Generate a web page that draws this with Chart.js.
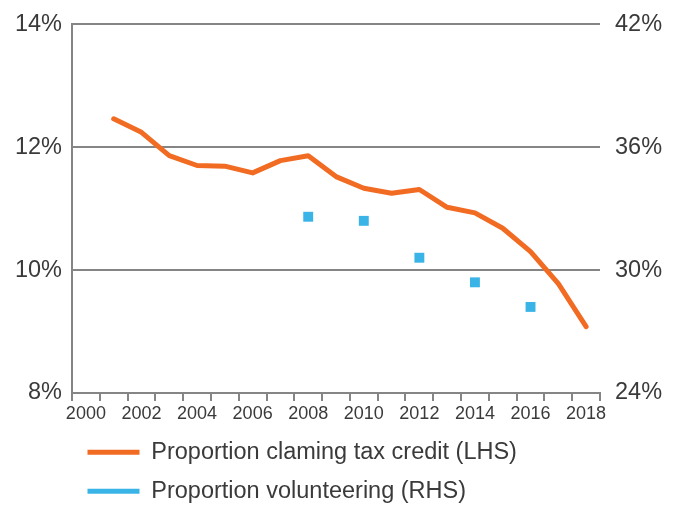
<!DOCTYPE html>
<html>
<head>
<meta charset="utf-8">
<script src="https://cdn.jsdelivr.net/npm/chart.js@4"></script>
<style>
  html, body { margin: 0; padding: 0; background: #fff; overflow: hidden; }
  #wrap { width: 674px; height: 507px; overflow: hidden; }
</style>
</head>
<body>
<div id="wrap"><canvas id="chart" width="674" height="513"></canvas></div>
<script>
const years = ['2000', '2001', '2002', '2003', '2004', '2005', '2006', '2007', '2008', '2009',
               '2010', '2011', '2012', '2013', '2014', '2015', '2016', '2017', '2018'];

// proportion claiming tax credit, % (left axis)
const creditYears = ['2001', '2002', '2003', '2004', '2005', '2006', '2007', '2008', '2009',
                     '2010', '2011', '2012', '2013', '2014', '2015', '2016', '2017', '2018'];
const creditValues = [12.46, 12.24, 11.86, 11.70, 11.69, 11.58, 11.78, 11.86, 11.52,
                      11.33, 11.25, 11.31, 11.02, 10.93, 10.68, 10.30, 9.78, 9.08];

// proportion volunteering, % (right axis)
const volunteerYears = ['2008', '2010', '2012', '2014', '2016'];
const volunteerValues = [32.6, 32.4, 30.6, 29.4, 28.2];

const leftTicks = [8, 10, 12, 14];
const rightTicks = [24, 30, 36, 42];

const axisGrey = '#858585';
const textColor = '#3a3a3a';
const fontFamily = '"Liberation Sans", Arial, sans-serif';

new Chart(document.getElementById('chart'), {
    data: {
        labels: years,
        datasets: [{
            type: 'line',
            label: 'Proportion claming tax credit (LHS)',
            data: creditYears.map((y, i) => ({ x: y, y: creditValues[i] })),
            borderColor: '#F26B23',
            backgroundColor: '#F26B23',
            borderWidth: 5,
            borderCapStyle: 'round',
            borderJoinStyle: 'round',
            pointRadius: 0,
            tension: 0,
            yAxisID: 'y'
        }, {
            type: 'line',
            label: 'Proportion volunteering (RHS)',
            data: volunteerYears.map((y, i) => ({ x: y, y: volunteerValues[i] })),
            showLine: false,
            pointStyle: 'rect',
            pointRadius: 7,
            pointBorderWidth: 0,
            backgroundColor: '#3AB4E6',
            borderColor: '#3AB4E6',
            yAxisID: 'y1'
        }]
    },
    options: {
        responsive: false,
        animation: false,
        layout: { padding: { top: 20, bottom: 0 } },
        plugins: {
            tooltip: { enabled: false },
            legend: {
                position: 'bottom',
                align: 'start',
                fullSize: false,
                labels: {
                    color: textColor,
                    font: { family: fontFamily, size: 23.5 },
                    boxWidth: 52,
                    boxHeight: 5,
                    padding: 15.5,
                    useBorderRadius: true,
                    borderRadius: 2.5,
                    generateLabels: chart => chart.data.datasets.map((ds, i) => ({
                        text: ds.label,
                        fillStyle: ds.backgroundColor,
                        strokeStyle: ds.backgroundColor,
                        lineWidth: 0,
                        hidden: false,
                        datasetIndex: i,
                        fontColor: textColor
                    }))
                }
            }
        },
        scales: {
            x: {
                type: 'category',
                offset: true,
                grid: {
                    offset: true,
                    drawOnChartArea: false,
                    drawTicks: true,
                    tickLength: 8,
                    color: axisGrey,
                    lineWidth: 2
                },
                border: { display: true, color: axisGrey, width: 2 },
                ticks: {
                    autoSkip: false,
                    maxRotation: 0,
                    padding: 2,
                    color: textColor,
                    font: { family: fontFamily, size: 18 },
                    callback: function (val, idx) {
                        const lab = this.getLabelForValue(val);
                        return Number(lab) % 2 === 0 ? lab : '';
                    }
                },
                afterFit: s => { s.height = 32; }
            },
            y: {
                position: 'left',
                min: 8,
                max: 14,
                afterBuildTicks: s => { s.ticks = leftTicks.map(v => ({ value: v })); },
                grid: { color: axisGrey, lineWidth: 2, drawTicks: false },
                border: { display: true, color: axisGrey, width: 2 },
                ticks: {
                    padding: 10,
                    color: textColor,
                    font: { family: fontFamily, size: 23.5 },
                    callback: v => v + '%'
                },
                afterFit: s => { s.width = 72; }
            },
            y1: {
                position: 'right',
                min: 24,
                max: 42,
                afterBuildTicks: s => { s.ticks = rightTicks.map(v => ({ value: v })); },
                grid: { display: false },
                border: { display: false },
                ticks: {
                    padding: 7,
                    color: textColor,
                    font: { family: fontFamily, size: 23.5 },
                    callback: v => v + '%'
                },
                afterFit: s => { s.width = 74; }
            }
        }
    }
});
</script>
</body>
</html>
